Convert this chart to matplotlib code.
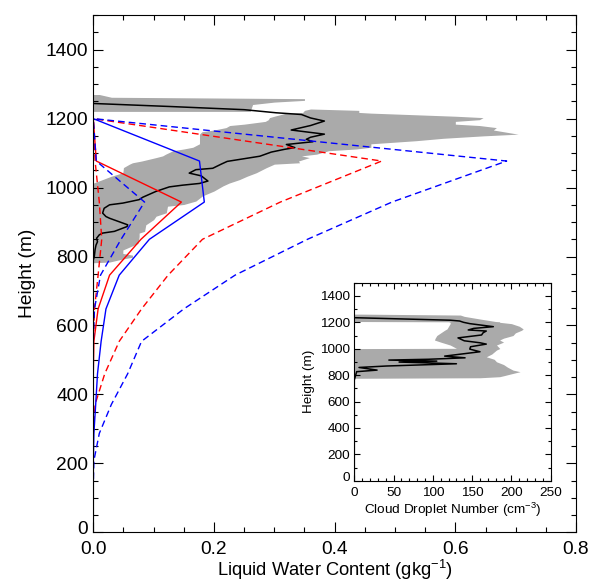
import numpy as np
import matplotlib
matplotlib.use("Agg")
import matplotlib.pyplot as plt
from matplotlib.ticker import MultipleLocator, FormatStrFormatter, FuncFormatter

plt.rcParams['font.family'] = ['Liberation Sans', 'DejaVu Sans']
plt.rcParams['mathtext.fontset'] = 'custom'
plt.rcParams['mathtext.rm'] = 'Liberation Sans'
plt.rcParams['mathtext.it'] = 'Liberation Sans:italic'

# ---- model profiles (liquid water content, g/kg) on model levels ----
model_height = [1500, 1200, 1077, 958, 850, 746, 648, 554, 460, 371, 287, 208, 135, 68, 0]
red_solid = [0, 0, 0.005, 0.146, 0.079, 0.027, 0.008, 0.001, 0, 0, 0, 0, 0, 0, 0]
red_dashed = [0, 0, 0.478, 0.31, 0.181, 0.124, 0.08, 0.043, 0.019, 0.003, 0, 0, 0, 0, 0]
red_dashed_low = [0, 0, 0.003, 0.01, 0.014, 0.008, 0.002, 0, 0, 0, 0, 0, 0, 0, 0]
blue_solid = [0, 0, 0.176, 0.184, 0.093, 0.043, 0.021, 0.013, 0.007, 0.004, 0.001, 0, 0, 0, 0]
blue_dashed = [0, 0, 0.685, 0.495, 0.355, 0.235, 0.15, 0.08, 0.057, 0.03, 0.01, 0.001, 0, 0, 0]
blue_dashed_low = [0, 0, 0.005, 0.085, 0.046, 0.012, 0.002, 0, 0, 0, 0, 0, 0, 0, 0]

# ---- observed mean LWC ----
obs_height = [0, 790, 800, 820, 833, 843, 853, 863, 868, 873, 887, 892, 911, 916, 926,
              940, 950, 955, 965, 972, 989, 1002, 1007, 1012, 1019, 1027, 1034, 1042,
              1052, 1056, 1068, 1076, 1081, 1091, 1103, 1111, 1116, 1125, 1133, 1140,
              1146, 1155, 1160, 1167, 1180, 1193, 1202, 1212, 1217, 1226, 1235, 1244]
obs_lwc = [0, 0, 0.0017, 0.003, 0.0045, 0.007, 0.0055, 0.01, 0.0155, 0.035, 0.056, 0.057,
           0.027, 0.021, 0.0155, 0.018, 0.027, 0.049, 0.076, 0.082, 0.104, 0.126, 0.148,
           0.176, 0.19, 0.184, 0.179, 0.159, 0.17, 0.198, 0.212, 0.222, 0.24, 0.276, 0.295,
           0.317, 0.334, 0.32, 0.364, 0.353, 0.36, 0.383, 0.36, 0.328, 0.36, 0.383, 0.36,
           0.345, 0.303, 0.25, 0.13, 0.0]

# observed range: thin band at cloud top
band_height = [1221, 1241, 1248, 1253, 1258, 1262, 1270]
band_max = [0.26, 0.264, 0.30, 0.35, 0.35, 0.03, 0.01]

# observed range: main body
body_height = [782, 784, 793, 798, 804, 809, 819, 838, 858, 868, 873, 892, 907, 917, 927,
               946, 951, 961, 976, 990, 1005, 1013, 1023, 1033, 1043, 1058, 1068, 1072,
               1077, 1087, 1092, 1097, 1107, 1112, 1117, 1127, 1136, 1143, 1150, 1155,
               1162, 1167, 1174, 1180, 1184, 1192, 1197, 1203, 1207, 1216, 1218, 1224, 1228]
body_min = [0, 0, 0, 0, 0, 0, 0, 0, 0, 0, 0, 0, 0, 0, 0, 0, 0, 0, 0, 0, 0, 0, 0.015, 0.03,
            0.049, 0.05, 0.06, 0.065, 0.08, 0.104, 0.115, 0.12, 0.132, 0.15, 0.165, 0.176,
            0.176, 0.176, 0.176, 0.176, 0.18, 0.20, 0.22, 0.226, 0.25, 0.285, 0.29, 0.292,
            0.30, 0.32, 0.347, 0.35, 0.36]
body_max = [0, 0.027, 0.049, 0.065, 0.065, 0.049, 0.049, 0.074, 0.076, 0.076, 0.085, 0.087,
            0.10, 0.104, 0.121, 0.123, 0.15, 0.17, 0.181, 0.20, 0.215, 0.225, 0.242, 0.255,
            0.27, 0.287, 0.30, 0.342, 0.34, 0.358, 0.345, 0.37, 0.39, 0.436, 0.46, 0.46,
            0.535, 0.58, 0.646, 0.704, 0.68, 0.663, 0.668, 0.64, 0.60, 0.60, 0.64, 0.646,
            0.60, 0.46, 0.44, 0.44, 0.36]

# ---- inset: cloud droplet number ----
cdn_height = [0, 763, 826, 838, 858, 869, 886, 899, 906, 914, 920, 931, 944, 977, 997,
              1015, 1035, 1045, 1060, 1082, 1104, 1121, 1134, 1142, 1154, 1167, 1190,
              1200, 1210, 1216, 1235]
cdn_mean = [0, 0, 3, 29, 6, 41, 130, 57, 105, 44, 94, 141, 115, 160, 147, 148, 168, 160,
            140, 132, 162, 164, 168, 145, 152, 177, 147, 139, 134, 122, 0]

cdn_range_height = [776, 780, 788, 795, 810, 826, 838, 860, 880, 901, 920, 939, 960, 990,
                    1001, 1003, 1028, 1050, 1066, 1080, 1100, 1120, 1140, 1150, 1170, 1190,
                    1200, 1204, 1206, 1225, 1235, 1245, 1255, 1262]
cdn_min = [0, 0, 0, 0, 0, 0, 0, 0, 0, 0, 0, 0, 0, 0, 0, 130, 122, 110, 102, 103, 105, 110,
           115, 118, 120, 122, 122, 120, 0, 0, 0, 0, 0, 0]
cdn_max = [0, 160, 185, 190, 200, 211, 202, 195, 190, 181, 178, 168, 175, 181, 185, 185,
           181, 190, 185, 190, 202, 205, 213, 215, 210, 200, 185, 185, 180, 160, 150, 140,
           135, 10]

gray = '#aaaaaa'
dash = (0, (4.8, 2.9))

# y labels skip 0: it is drawn separately, nudged up off the x axis labels
skip_zero = FuncFormatter(lambda v, pos: '' if v == 0 else '%d' % v)

fig = plt.figure(figsize=(5.9, 5.81), dpi=100)
ax = fig.add_axes([0.1581, 0.0838, 0.8182, 0.89])

ax.fill_betweenx(band_height, 0, band_max, color=gray, lw=0)
ax.fill_betweenx(body_height, body_min, body_max, color=gray, lw=0)
ax.plot(obs_lwc, obs_height, color='black', lw=1.1)

ax.plot(red_dashed, model_height, color='red', lw=1.0, ls=dash)
ax.plot(red_dashed_low, model_height, color='red', lw=1.0, ls=dash)
ax.plot(red_solid, model_height, color='red', lw=1.0)
ax.plot(blue_dashed, model_height, color='blue', lw=1.0, ls=dash)
ax.plot(blue_dashed_low, model_height, color='blue', lw=1.0, ls=dash)
ax.plot(blue_solid, model_height, color='blue', lw=1.0)

ax.set_xlim(0, 0.8)
ax.set_ylim(0, 1500)
ax.xaxis.set_major_locator(MultipleLocator(0.2))
ax.xaxis.set_minor_locator(MultipleLocator(0.05))
ax.xaxis.set_major_formatter(FormatStrFormatter('%.1f'))
ax.yaxis.set_major_locator(MultipleLocator(200))
ax.yaxis.set_minor_locator(MultipleLocator(50))
ax.yaxis.set_major_formatter(skip_zero)
ax.tick_params(which='both', direction='in', top=True, right=True, width=0.8)
ax.tick_params(which='major', length=7.2)
ax.tick_params(which='minor', length=3.6)
ax.tick_params(axis='x', pad=6.0, labelsize=13.8)
ax.tick_params(axis='y', pad=3.6, labelsize=13.8)
for sp in ax.spines.values():
    sp.set_linewidth(0.8)
ax.annotate('0', xy=(0, 0), xycoords=('axes fraction', 'data'), xytext=(-3.6, 3.6),
            textcoords='offset points', ha='right', va='center_baseline', fontsize=13.8)
ax.set_xlabel('Liquid Water Content (gkg$^{-1}$)', fontsize=13.2, labelpad=0)
ax.set_ylabel('Height (m)', fontsize=13.8, labelpad=7)

# inset
axi = fig.add_axes([0.6005, 0.1726, 0.3329, 0.3408])
axi.fill_betweenx(cdn_range_height, cdn_min, cdn_max, color=gray, lw=0)
axi.plot(cdn_mean, cdn_height, color='black', lw=1.1)
axi.set_xlim(0, 250)
axi.set_ylim(0, 1500)
axi.xaxis.set_major_locator(MultipleLocator(50))
axi.xaxis.set_minor_locator(MultipleLocator(10))
axi.yaxis.set_major_locator(MultipleLocator(200))
axi.yaxis.set_minor_locator(MultipleLocator(100))
axi.yaxis.set_major_formatter(skip_zero)
axi.tick_params(which='both', direction='in', top=True, right=True, width=0.8)
axi.tick_params(which='major', length=4.5)
axi.tick_params(which='minor', length=2.5)
axi.tick_params(axis='x', pad=4.5, labelsize=9.7)
axi.tick_params(axis='y', pad=3, labelsize=9.7)
for sp in axi.spines.values():
    sp.set_linewidth(0.8)
axi.annotate('0', xy=(0, 0), xycoords=('axes fraction', 'data'), xytext=(-3, 2.9),
             textcoords='offset points', ha='right', va='center_baseline', fontsize=9.7)
axi.set_xlabel('Cloud Droplet Number (cm$^{-3}$)', fontsize=9.7, labelpad=1)
axi.set_ylabel('Height (m)', fontsize=9.7, labelpad=3.5)

fig.savefig('out.png', dpi=100)
